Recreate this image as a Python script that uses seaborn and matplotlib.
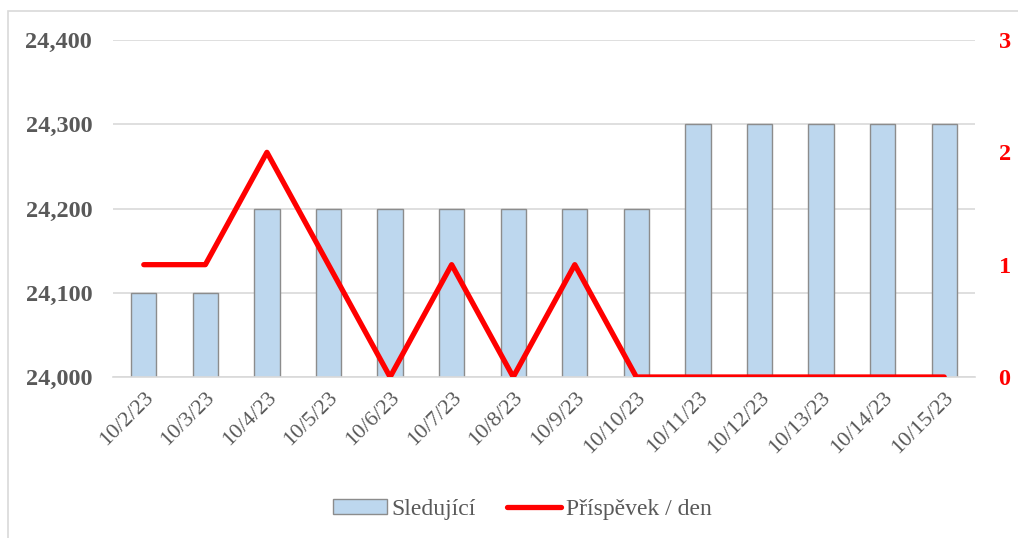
import matplotlib
matplotlib.use("Agg")
import matplotlib.pyplot as plt
import pandas as pd
import seaborn as sns
from matplotlib.patches import Rectangle, Patch
from matplotlib.lines import Line2D
from matplotlib.ticker import FuncFormatter, FixedLocator

dates = ["10/2/23", "10/3/23", "10/4/23", "10/5/23", "10/6/23", "10/7/23", "10/8/23",
         "10/9/23", "10/10/23", "10/11/23", "10/12/23", "10/13/23", "10/14/23", "10/15/23"]
followers = [24100, 24100, 24200, 24200, 24200, 24200, 24200,
             24200, 24200, 24300, 24300, 24300, 24300, 24300]
posts = [1, 1, 2, 1, 0, 1, 0, 1, 0, 0, 0, 0, 0, 0]

df = pd.DataFrame({"date": dates, "followers": followers, "posts": posts})

sns.set_style("white")
plt.rcParams["font.family"] = ["Liberation Serif", "DejaVu Serif"]

grey = "#595959"
fig = plt.figure(figsize=(10.18, 5.38), dpi=100)
ax = fig.add_axes([113/1018, 1-377/538, (975-113)/1018, (377-40)/538])

sns.barplot(df, x="date", y="followers", ax=ax, color="#bdd7ee", width=0.41,
            edgecolor="#8c8c8c", linewidth=1, saturation=1, zorder=2)
ax.set_ylim(24000, 24400)
ax.set_yticks([24000, 24100, 24200, 24300, 24400])
ax.yaxis.set_major_formatter(FuncFormatter(lambda v, p: f"{int(v):,}"))
ax.grid(axis="y", color="#d9d9d9", linewidth=1.2, zorder=0)
ax.set_axisbelow(True)
ax.set_xlim(-0.5, len(dates) - 0.5)
ax.set_xlabel("")
ax.set_ylabel("")
for s in ["top", "right", "left"]:
    ax.spines[s].set_visible(False)
ax.spines["bottom"].set_color("#d9d9d9")
ax.spines["bottom"].set_linewidth(1.2)
ax.tick_params(axis="y", length=0, pad=15, labelsize=17.5, labelcolor=grey)
for t in ax.get_yticklabels():
    t.set_fontweight("bold")
ax.tick_params(axis="x", which="major", length=0, pad=8, labelsize=16, labelcolor=grey)
ax.xaxis.set_minor_locator(FixedLocator([i - 0.5 for i in range(len(dates) + 1)]))
ax.tick_params(axis="x", which="minor", length=6, width=1.2, color="#d9d9d9")
for t in ax.get_xticklabels():
    t.set_rotation(45)
    t.set_ha("right")
    t.set_rotation_mode("anchor")

ax2 = ax.twinx()
sns.lineplot(df, x="date", y="posts", ax=ax2, color="red", linewidth=3.8,
             sort=False, zorder=3)
ax2.set_ylim(0, 3)
ax2.set_yticks([0, 1, 2, 3])
ax2.set_ylabel("")
for s in ax2.spines.values():
    s.set_visible(False)
ax2.tick_params(axis="y", length=0, pad=17, labelsize=17.5, labelcolor="red")
for t in ax2.get_yticklabels():
    t.set_fontweight("bold")
ax.set_xlim(-0.5, len(dates) - 0.5)

handles = [Patch(facecolor="#bdd7ee", edgecolor="#8c8c8c", label="Sledující"),
           Line2D([0], [0], color="red", linewidth=3.8, label="Příspěvek / den")]
leg = fig.legend(handles=handles, loc="center", bbox_to_anchor=(0.513, 1-509/538),
                 ncol=2, frameon=False, fontsize=17, handlelength=2.3,
                 handleheight=0.6, columnspacing=1.3, handletextpad=0.2)
for t in leg.get_texts():
    t.set_color(grey)

# outer chart border: only top and left edges fall inside the image
fig.patches.append(Rectangle((8/1018, -0.1), 1.2, 1.1 - 11/538, transform=fig.transFigure,
                             fill=False, edgecolor="#d9d9d9", linewidth=1.2))

fig.savefig("out.png", dpi=100)
